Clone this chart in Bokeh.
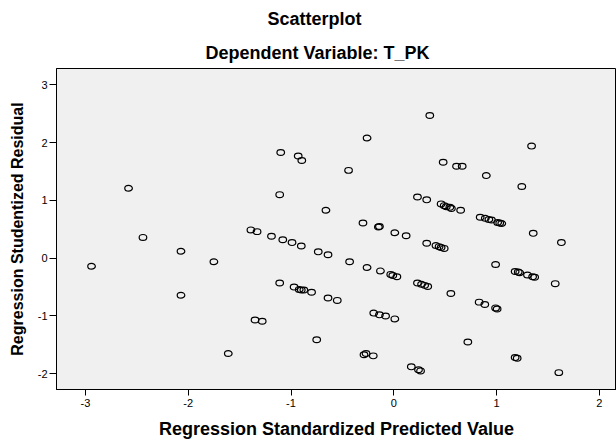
from bokeh.plotting import figure
from bokeh.models import Range1d, FixedTicker, Title, ColumnDataSource
from bokeh.embed import file_html
from bokeh.resources import INLINE

title_main = "Scatterplot"
title_sub = "Dependent Variable: T_PK"
x_label = "Regression Standardized Predicted Value"
y_label = "Regression Studentized Residual"
x_ticks = [-3, -2, -1, 0, 1, 2]
x_tick_labels = ["-3", "-2", "-1", "0", "1", "2"]
y_ticks = [-2, -1, 0, 1, 2, 3]
y_tick_labels = ["-2", "-1", "0", "1", "2", "3"]

pred = [-2.94, -2.58, -2.44, -2.07, -2.07, -1.75, -1.61, -1.39, -1.33, -1.28,
        -1.35, -1.19, -1.11, -1.10, -1.11, -1.08, -0.99, -0.97, -0.93, -0.895,
        -0.92, -0.90, -0.875, -0.90, -0.80, -0.75, -0.735, -0.66, -0.64, -0.64,
        -0.55, -0.44, -0.43, -0.30, -0.29, -0.27, -0.26, -0.26, -0.20, -0.195,
        -0.15, -0.14, -0.14, -0.13, -0.08, -0.03, -0.01, 0.01, 0.01, 0.03,
        0.12, 0.17, 0.23, 0.23, 0.24, 0.26, 0.27, 0.30, 0.32, 0.32,
        0.33, 0.35, 0.41, 0.44, 0.46, 0.49, 0.46, 0.49, 0.51, 0.545,
        0.56, 0.48, 0.555, 0.61, 0.665, 0.65, 0.72, 0.83, 0.84, 0.885,
        0.89, 0.90, 0.925, 0.95, 0.99, 0.99, 1.005, 1.01, 1.03, 1.05,
        1.18, 1.21, 1.225, 1.18, 1.20, 1.245, 1.30, 1.34, 1.35, 1.37,
        1.356, 1.57, 1.605, 1.63]
resid = [-0.14, 1.21, 0.36, 0.12, -0.64, -0.06, -1.65, 0.49, 0.46, -1.09,
         -1.07, 0.38, 1.10, 1.83, -0.43, 0.32, 0.27, -0.50, 1.77, 1.69,
         -0.54, -0.55, -0.55, 0.21, -0.59, -1.41, 0.11, 0.83, 0.06, -0.69,
         -0.73, 1.52, -0.06, 0.61, -1.67, -1.65, 2.08, -0.16, -1.69, -0.95,
         0.54, 0.55, -0.98, -0.22, -1.00, -0.28, -0.30, 0.44, -1.05, -0.32,
         0.39, -1.88, 1.06, -0.43, -1.93, -1.95, -0.45, -0.47, 1.01, 0.26,
         -0.49, 2.47, 0.22, 0.20, 0.185, 0.17, 0.94, 0.91, 0.89, 0.88,
         0.86, 1.66, -0.61, 1.59, 1.59, 0.83, -1.45, -0.76, 0.71, -0.80,
         0.69, 1.43, 0.67, 0.66, -0.11, -0.86, -0.88, 0.62, 0.61, 0.60,
         -0.23, -0.24, -0.25, -1.72, -1.73, 1.24, -0.29, 1.94, -0.32, -0.33,
         0.43, -0.44, -1.98, 0.27]

FONT = "Liberation Sans"

p = figure(width=616, height=441, output_backend="svg", toolbar_location=None,
           x_range=Range1d(-3.281, 2.166), y_range=Range1d(-2.272, 3.283),
           min_border_left=56, min_border_right=0, min_border_top=68,
           min_border_bottom=52,
           background_fill_color="#f0f0f0", border_fill_color="white",
           outline_line_color="black", outline_line_width=1)
p.grid.visible = False

p.title.text = title_main
p.title.align = "left"
p.title.offset = 211
p.title.standoff = 13
p.title.text_font = FONT
p.title.text_font_size = "18px"
p.title.text_font_style = "bold"
p.title.text_color = "black"

sub = Title(text=title_sub, align="left", offset=149, standoff=11,
            text_font=FONT, text_font_size="18px", text_font_style="bold",
            text_color="black")
p.add_layout(sub, "above")

src = ColumnDataSource(dict(x=pred, y=resid))
p.ellipse(x="x", y="y", width=7.6, height=5.8, width_units="screen",
          height_units="screen", source=src, fill_color=None,
          line_color="black", line_width=1.2)

xa = p.xaxis[0]
xa.ticker = FixedTicker(ticks=x_ticks)
xa.major_label_overrides = {t: s for t, s in zip(x_ticks, x_tick_labels)}
xa.minor_tick_line_color = None
xa.major_tick_in = 0
xa.major_tick_out = 6
xa.major_label_standoff = 3
xa.major_label_text_font = FONT
xa.major_label_text_font_size = "11px"
xa.major_label_text_color = "black"
xa.axis_line_color = "black"
xa.major_tick_line_color = "black"
xa.axis_label = x_label
xa.axis_label_text_font = FONT
xa.axis_label_text_font_size = "18px"
xa.axis_label_text_font_style = "bold"
xa.axis_label_text_color = "black"
xa.axis_label_standoff = 9

ya = p.yaxis[0]
ya.ticker = FixedTicker(ticks=y_ticks)
ya.major_label_overrides = {t: s for t, s in zip(y_ticks, y_tick_labels)}
ya.minor_tick_line_color = None
ya.major_tick_in = 0
ya.major_tick_out = 7
ya.major_label_standoff = 2
ya.major_label_text_font = FONT
ya.major_label_text_font_size = "11px"
ya.major_label_text_color = "black"
ya.axis_line_color = "black"
ya.major_tick_line_color = "black"
ya.axis_label = y_label
ya.axis_label_text_font = FONT
ya.axis_label_text_font_size = "16px"
ya.axis_label_text_font_style = "bold"
ya.axis_label_text_color = "black"
ya.axis_label_standoff = 9

open("out.html", "w").write(file_html(p, INLINE))
